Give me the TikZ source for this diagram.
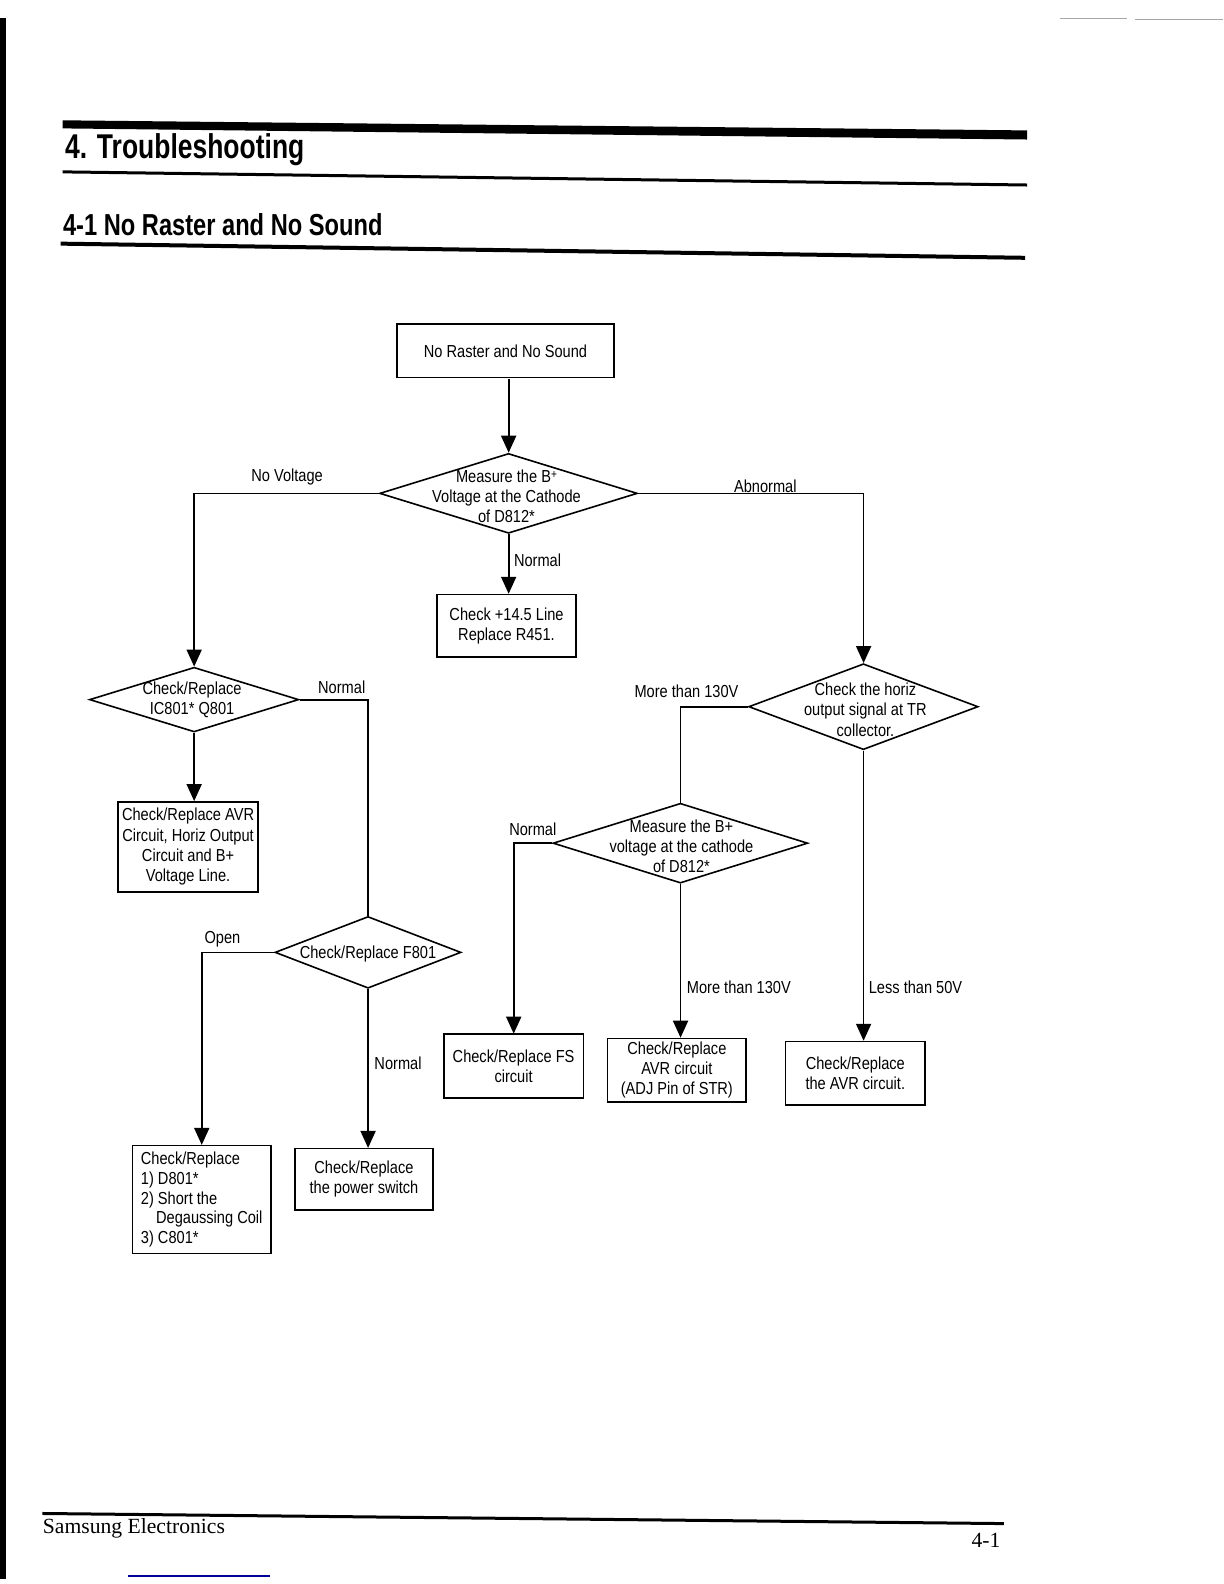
\documentclass[tikz,border=0pt]{standalone}
\usepackage{fontspec}
\setmainfont{Liberation Serif}
\newfontfamily\cond[FakeStretch=0.84]{Liberation Sans}
\newfontfamily\titlefont[FakeStretch=0.77]{Liberation Sans}
\newfontfamily\subfont[FakeStretch=0.78]{Liberation Sans}
\usetikzlibrary{shapes.geometric,arrows.meta,calc}
\begin{document}
\begin{tikzpicture}[x=0.5pt,y=-0.5pt,
  fc/.style={font=\cond\fontsize{8.6}{10}\selectfont},
  box/.style={fc,draw,line width=0.8pt,inner sep=0pt,align=center},
  dia/.style={draw,diamond,line width=0.8pt,inner sep=0pt},
  dtext/.style={fc,align=center,inner sep=0pt},
  lbl/.style={fc,inner sep=0pt},
  conn/.style={line width=0.9pt},
  arr/.style={conn,-{Triangle[length=8.5pt,width=7.5pt]}}]
\useasboundingbox (0,0) rectangle (1224,1584);
\fill[white] (0,0) rectangle (1224,1584);
\begin{scope}[scale=1.011,transform shape]
% scan edges
\fill[black] (0,18) rectangle (6,1562);
\draw[gray!70,line width=0.6pt] (1048,18) -- (1115,18);
\draw[gray!70,line width=0.6pt] (1123,19) -- (1210,19);
\draw[blue!60!black,line width=0.7pt] (127,1559) -- (267,1559);

% header
\fill[black] (62,119) -- (1016,129) -- (1016,138) -- (62,127) -- cycle;
\node[anchor=base west,inner sep=0pt,font=\titlefont\bfseries\fontsize{17}{20}\selectfont] (title) at (64,157) {4. Troubleshooting};
\draw[line width=1.5pt] (62,170) -- (1016,183);
\node[anchor=base west,inner sep=0pt,font=\subfont\bfseries\fontsize{15}{18}\selectfont] (subtitle) at (62,233) {4-1 No Raster and No Sound};
\draw[line width=2pt] (60,241) -- (1014,255);

% footer
\draw[line width=1.5pt] (42,1497) -- (993,1507);
\node[anchor=base west,inner sep=0pt,font=\fontsize{10.7}{13}\selectfont] (foot) at (42,1517) {Samsung Electronics};
\node[anchor=base east,inner sep=0pt,font=\fontsize{10.7}{13}\selectfont] (page) at (990,1531) {4-1};

% boxes
\node[box,minimum width=107.5pt,minimum height=26.5pt] (b1) at (500,347) {No Raster and No Sound};
\node[box,minimum width=69pt,minimum height=31pt] (b2) at (501,619) {Check +14.5 Line\\Replace R451.};
\node[box,minimum width=69pt,minimum height=44.5pt] (b3) at (186,837.5) {Check/Replace AVR\\Circuit, Horiz Output\\Circuit and B+\\Voltage Line.};
\node[box,minimum width=68.5pt,minimum height=53.5pt] (b5) at (199.5,1186.5) {};
\node[fc,align=left,anchor=west,inner sep=0pt,font=\cond\fontsize{8.6}{9.8}\selectfont] (t6) at (139,1186.5) {Check/Replace\\1) D801*\\2) Short the\\\hspace*{7.5pt}Degaussing Coil\\3) C801*};
\node[box,minimum width=68pt,minimum height=30.5pt] (b6) at (360,1166.5) {Check/Replace\\the power switch};
\node[box,minimum width=69pt,minimum height=31.5pt] (b7) at (508,1054.5) {Check/Replace FS\\circuit};
\node[box,minimum width=68.5pt,minimum height=31.5pt] (b8) at (669.5,1058.5) {Check/Replace\\AVR circuit\\(ADJ Pin of STR)};
\node[box,minimum width=69pt,minimum height=31.5pt] (b9) at (846,1061.5) {Check/Replace\\the AVR circuit.};

% diamonds
\node[dia,minimum width=127.5pt,minimum height=39.5pt] (d1) at (503,488) {};
\node[dtext] (t1) at (501,491) {Measure the B\raisebox{1.8pt}{\fontsize{6}{6}\selectfont +}\\Voltage at the Cathode\\of D812*};
\node[dia,minimum width=103.5pt,minimum height=32pt] (d2) at (192,692) {};
\node[dtext] (t2) at (190,692) {Check/Replace\\IC801* Q801};
\node[dia,minimum width=92pt,minimum height=35.5pt] (d4) at (364,942) {};
\node[dtext] (t4) at (364,944) {Check/Replace F801};
\node[dia,minimum width=113.5pt,minimum height=42.5pt] (d3) at (854,699) {};
\node[dtext] (t3) at (856,702) {Check the horiz\\output signal at TR\\collector.};
\node[dia,minimum width=126pt,minimum height=39.5pt] (d5) at (673,834) {};
\node[dtext] (t5) at (674,837) {Measure the B+\\voltage at the cathode\\of D812*};

% connectors
\draw[arr] (b1.south -| d1.north) -- (d1.north);
\draw[arr] (d1.west) -| (d2.north);
\draw[arr] (d1.east) -| (d3.north);
\draw[arr] (d1.south) -- (d1.south |- b2.north);
\draw[conn] (d2.east) -| (d4.north);
\draw[arr] (d2.south) -- (d2.south |- b3.north);
\draw[arr] (d4.west) -| (b5.north);
\draw[arr] (d4.south) -- (d4.south |- b6.north);
\draw[conn] (d3.west) -| (d5.north);
\draw[arr] (d3.south) -- (d3.south |- b9.north);
\draw[arr] (d5.west) -| (b7.north);
\draw[arr] (d5.south) -- (d5.south |- b8.north);

% labels
\node[lbl] (l1) at (284,472) {No Voltage};
\node[lbl] (l2) at (757,481) {Abnormal};
\node[lbl,anchor=west] (l3) at (508,554) {Normal};
\node[lbl] (l4) at (338,680) {Normal};
\node[lbl] (l5) at (220,929) {Open};
\node[lbl,anchor=west] (l6) at (370,1052) {Normal};
\node[lbl] (l7) at (679,684) {More than 130V};
\node[lbl] (l8) at (527,820) {Normal};
\node[lbl,anchor=west] (l9) at (679,977) {More than 130V};
\node[lbl,anchor=west] (l10) at (859,977) {Less than 50V};
\end{scope}
\end{tikzpicture}
\end{document}
